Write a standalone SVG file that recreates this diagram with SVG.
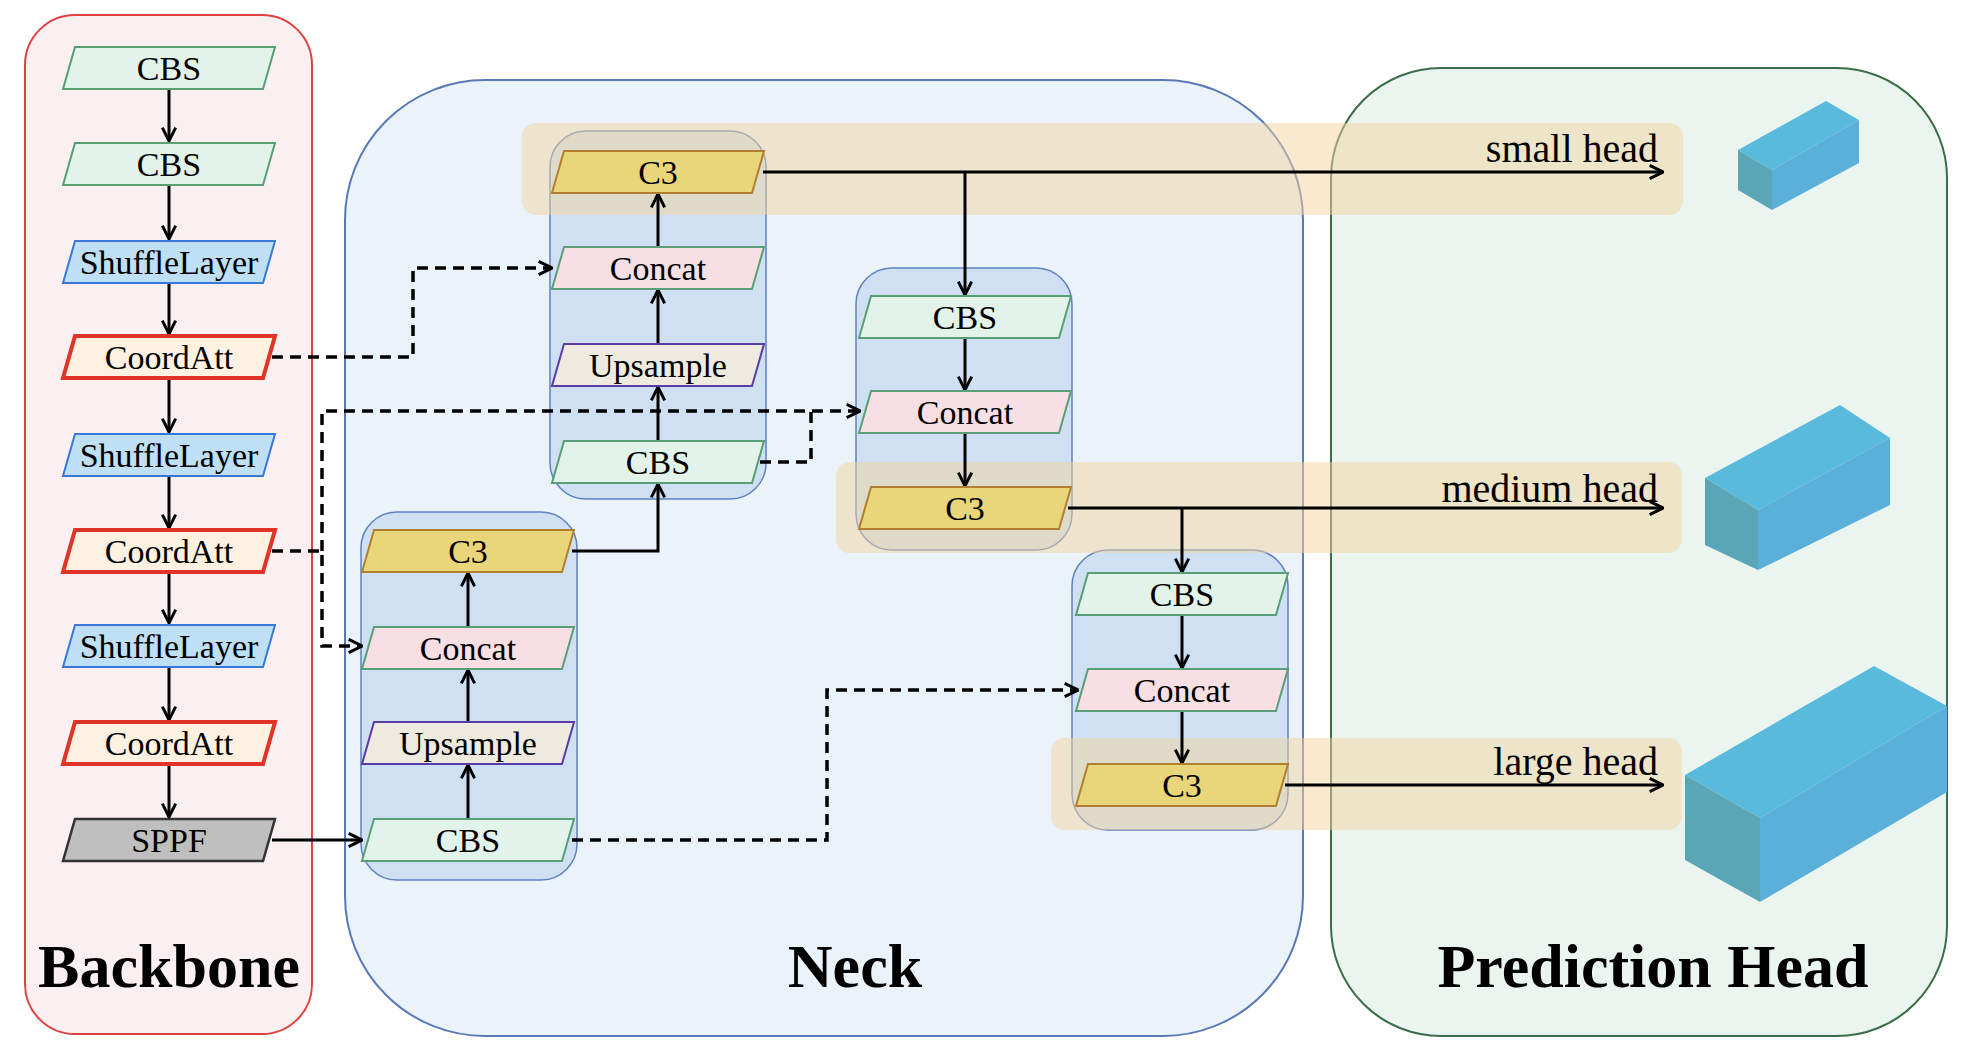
<svg xmlns="http://www.w3.org/2000/svg" width="1972" height="1056" viewBox="0 0 1972 1056">
<style>
.lbl{font-family:"Liberation Serif",serif;font-size:34px;text-anchor:middle;fill:#000}
.head{font-family:"Liberation Serif",serif;font-size:40px;text-anchor:end;fill:#000}
.title{font-family:"Liberation Serif",serif;font-size:62px;font-weight:bold;text-anchor:middle;fill:#000}
.cbs{fill:#e2f3ea;stroke:#5a9e78;stroke-width:2}
.shf{fill:#bfdff5;stroke:#3a78d8;stroke-width:2}
.ca{fill:#fdf2e2;stroke:#e03428;stroke-width:4}
.cc{fill:#f7dfe3;stroke:#5a9e78;stroke-width:2}
.up{fill:#eeeadf;stroke:#5a3ca8;stroke-width:2}
.c3{fill:#ead67a;stroke:#b08030;stroke-width:2}
.sp{fill:#bfbfbf;stroke:#333;stroke-width:2.5}
.col{fill:#cfe0f3;stroke:#6080c0;stroke-width:1.5}
.band{fill:#f2d3a0;opacity:0.5}
.ln{fill:none;stroke:#000;stroke-width:3}
.ds{fill:none;stroke:#000;stroke-width:3.5;stroke-dasharray:11 7}
</style>
<defs>
<marker id="ah" viewBox="0 0 12 12" refX="11" refY="6" markerWidth="16" markerHeight="16" markerUnits="userSpaceOnUse" orient="auto">
<path d="M1,1 L11,6 L1,11" fill="none" stroke="#000" stroke-width="2.2"/>
</marker>
<path id="pg" d="M-94,-21 H106 L94,21 H-106 Z"/>
</defs>
<g id="panels">
<rect id="backbone-panel" x="25" y="15" width="287" height="1019" rx="50" fill="#faf0f1" stroke="#e04040" stroke-width="2"/>
<rect id="neck-panel" x="345" y="80" width="958" height="956" rx="140" fill="#eaf2fa" stroke="#5a78b8" stroke-width="2"/>
<rect id="head-panel" x="1331" y="68" width="616" height="968" rx="110" fill="#ebf5f0" stroke="#3a6e4a" stroke-width="2"/>
<rect x="550" y="131" width="216" height="368" rx="36" class="col"/>
<rect x="361" y="512" width="216" height="368" rx="36" class="col"/>
<rect x="856" y="268" width="216" height="282" rx="36" class="col"/>
<rect x="1072" y="550" width="216" height="280" rx="36" class="col"/>
<rect x="522" y="123" width="1161" height="92" rx="14" class="band"/>
<rect x="836" y="462" width="846" height="91" rx="14" class="band"/>
<rect x="1051" y="738" width="631" height="92" rx="14" class="band"/>
</g>
<g id="cubes">
<polygon points="1738,150 1826,101 1859,120 1772,170" fill="#5abadc"/>
<polygon points="1772,170 1859,120 1859,163 1772,210" fill="#5ab0d8"/>
<polygon points="1738,150 1772,170 1772,210 1738,190" fill="#5aa6b6"/>
<polygon points="1705,478 1840,405 1890,438 1758,510" fill="#5abadc"/>
<polygon points="1758,510 1890,438 1890,505 1758,570" fill="#5ab0d8"/>
<polygon points="1705,478 1758,510 1758,570 1705,545" fill="#5aa6b6"/>
<polygon points="1685,775 1874,666 1947,706 1760,818" fill="#5abadc"/>
<polygon points="1760,818 1947,706 1947,792 1760,902" fill="#5ab0d8"/>
<polygon points="1685,775 1760,818 1760,902 1685,860" fill="#5aa6b6"/>
</g>
<g id="connectors">
<path class="ln" d="M169,89 V141" marker-end="url(#ah)"/>
<path class="ln" d="M169,185 V239" marker-end="url(#ah)"/>
<path class="ln" d="M169,283 V334" marker-end="url(#ah)"/>
<path class="ln" d="M169,378 V432" marker-end="url(#ah)"/>
<path class="ln" d="M169,476 V528" marker-end="url(#ah)"/>
<path class="ln" d="M169,572 V623" marker-end="url(#ah)"/>
<path class="ln" d="M169,667 V720" marker-end="url(#ah)"/>
<path class="ln" d="M169,764 V817" marker-end="url(#ah)"/>
<path class="ln" d="M272,840 H362" marker-end="url(#ah)"/>
<path class="ln" d="M468,819 V765" marker-end="url(#ah)"/>
<path class="ln" d="M468,722 V670" marker-end="url(#ah)"/>
<path class="ln" d="M468,627 V573" marker-end="url(#ah)"/>
<path class="ln" d="M572,551 H658 V484" marker-end="url(#ah)"/>
<path class="ln" d="M658,441 V387" marker-end="url(#ah)"/>
<path class="ln" d="M658,344 V290" marker-end="url(#ah)"/>
<path class="ln" d="M658,247 V194" marker-end="url(#ah)"/>
<path class="ln" d="M763,172 H1663" marker-end="url(#ah)"/>
<path class="ln" d="M965,172 V295" marker-end="url(#ah)"/>
<path class="ln" d="M965,338 V390" marker-end="url(#ah)"/>
<path class="ln" d="M965,433 V486" marker-end="url(#ah)"/>
<path class="ln" d="M1068,508 H1663" marker-end="url(#ah)"/>
<path class="ln" d="M1182,508 V572" marker-end="url(#ah)"/>
<path class="ln" d="M1182,615 V668" marker-end="url(#ah)"/>
<path class="ln" d="M1182,711 V763" marker-end="url(#ah)"/>
<path class="ln" d="M1285,785 H1663" marker-end="url(#ah)"/>
<path class="ds" d="M272,357 H413 V268 H552" marker-end="url(#ah)"/>
<path class="ds" d="M272,551 H322 V646 H362" marker-end="url(#ah)"/>
<path class="ds" d="M322,551 V411 H860" marker-end="url(#ah)"/>
<path class="ds" d="M760,462 H811 V411"/>
<path class="ds" d="M572,840 H827 V690 H1078" marker-end="url(#ah)"/>
</g>
<g id="n-bb-cbs1"><use href="#pg" x="169" y="68" class="cbs"/><text class="lbl" x="169" y="80">CBS</text></g>
<g id="n-bb-cbs2"><use href="#pg" x="169" y="164" class="cbs"/><text class="lbl" x="169" y="176">CBS</text></g>
<g id="n-bb-sl1"><use href="#pg" x="169" y="262" class="shf"/><text class="lbl" x="169" y="274">ShuffleLayer</text></g>
<g id="n-bb-ca1"><use href="#pg" x="169" y="357" class="ca"/><text class="lbl" x="169" y="369">CoordAtt</text></g>
<g id="n-bb-sl2"><use href="#pg" x="169" y="455" class="shf"/><text class="lbl" x="169" y="467">ShuffleLayer</text></g>
<g id="n-bb-ca2"><use href="#pg" x="169" y="551" class="ca"/><text class="lbl" x="169" y="563">CoordAtt</text></g>
<g id="n-bb-sl3"><use href="#pg" x="169" y="646" class="shf"/><text class="lbl" x="169" y="658">ShuffleLayer</text></g>
<g id="n-bb-ca3"><use href="#pg" x="169" y="743" class="ca"/><text class="lbl" x="169" y="755">CoordAtt</text></g>
<g id="n-bb-sppf"><use href="#pg" x="169" y="840" class="sp"/><text class="lbl" x="169" y="852">SPPF</text></g>
<g id="n-c1-c3"><use href="#pg" x="658" y="172" class="c3"/><text class="lbl" x="658" y="184">C3</text></g>
<g id="n-c1-concat"><use href="#pg" x="658" y="268" class="cc"/><text class="lbl" x="658" y="280">Concat</text></g>
<g id="n-c1-up"><use href="#pg" x="658" y="365" class="up"/><text class="lbl" x="658" y="377">Upsample</text></g>
<g id="n-c1-cbs"><use href="#pg" x="658" y="462" class="cbs"/><text class="lbl" x="658" y="474">CBS</text></g>
<g id="n-c2-c3"><use href="#pg" x="468" y="551" class="c3"/><text class="lbl" x="468" y="563">C3</text></g>
<g id="n-c2-concat"><use href="#pg" x="468" y="648" class="cc"/><text class="lbl" x="468" y="660">Concat</text></g>
<g id="n-c2-up"><use href="#pg" x="468" y="743" class="up"/><text class="lbl" x="468" y="755">Upsample</text></g>
<g id="n-c2-cbs"><use href="#pg" x="468" y="840" class="cbs"/><text class="lbl" x="468" y="852">CBS</text></g>
<g id="n-c3-cbs"><use href="#pg" x="965" y="317" class="cbs"/><text class="lbl" x="965" y="329">CBS</text></g>
<g id="n-c3-concat"><use href="#pg" x="965" y="412" class="cc"/><text class="lbl" x="965" y="424">Concat</text></g>
<g id="n-c3-c3"><use href="#pg" x="965" y="508" class="c3"/><text class="lbl" x="965" y="520">C3</text></g>
<g id="n-c4-cbs"><use href="#pg" x="1182" y="594" class="cbs"/><text class="lbl" x="1182" y="606">CBS</text></g>
<g id="n-c4-concat"><use href="#pg" x="1182" y="690" class="cc"/><text class="lbl" x="1182" y="702">Concat</text></g>
<g id="n-c4-c3"><use href="#pg" x="1182" y="785" class="c3"/><text class="lbl" x="1182" y="797">C3</text></g>
<g id="labels">
<text class="head" x="1658" y="162">small head</text>
<text class="head" x="1658" y="502">medium head</text>
<text class="head" x="1658" y="775">large head</text>
<text class="title" x="169" y="987">Backbone</text>
<text class="title" x="855" y="987">Neck</text>
<text class="title" x="1653" y="987">Prediction Head</text>
</g>
</svg>
